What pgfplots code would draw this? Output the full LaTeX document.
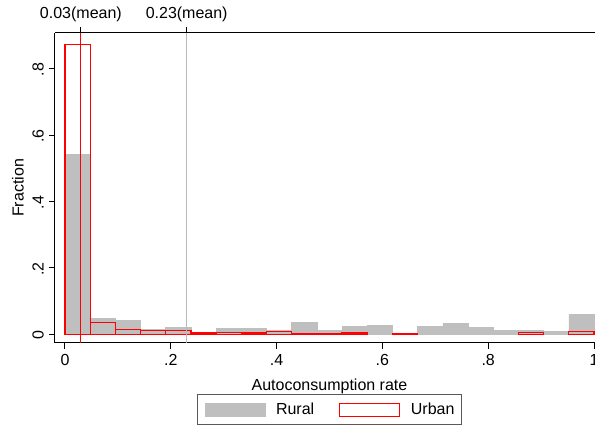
\documentclass[border=0pt]{standalone}
\usepackage{fontspec}
\setmainfont{Liberation Sans}
\usepackage{pgfplots}
\pgfplotsset{compat=1.18}

\definecolor{barfill}{RGB}{191,191,191}
\definecolor{meangray}{RGB}{185,185,185}

% Histogram fractions, 21 bins of width 1/21 on [0,1]
\newcommand{\ruralbars}{
(0.02381,0.543) (0.07143,0.049) (0.11905,0.043) (0.16667,0.015)
(0.21429,0.021) (0.26190,0.004) (0.30952,0.018) (0.35714,0.018)
(0.40476,0.012) (0.45238,0.035) (0.50000,0.011) (0.54762,0.023)
(0.59524,0.027) (0.64286,0.001) (0.69048,0.023) (0.73810,0.034)
(0.78571,0.022) (0.83333,0.011) (0.88095,0.013) (0.92857,0.010)
(0.97619,0.060)}
\newcommand{\urbanbars}{
(0.02381,0.873) (0.07143,0.035) (0.11905,0.014) (0.16667,0.011)
(0.21429,0.011) (0.26190,0.004) (0.30952,0.006) (0.35714,0.004)
(0.40476,0.009) (0.45238,0.003) (0.50000,0.003) (0.54762,0.004)
(0.64286,0.003) (0.88095,0.006) (0.97619,0.009)}

\pgfplotsset{
  frame/.style={
    scale only axis, width=274.5pt, height=155pt,
    xmin=-0.0189, xmax=1.0189, ymin=-0.026, ymax=0.9075,
    axis line style={-, line width=0.5pt, black},
    tick align=outside, major tick length=2.8pt,
    tick style={black, line width=0.5pt},
  },
  swatch/.style={legend image code/.code={
    \path[draw=none, fill=none] (0pt,-7.4pt) rectangle (35.5pt,7.4pt);
    \draw[##1] (0pt,-3.25pt) rectangle (30pt,3.25pt);}},
}

\begin{document}
\fontsize{8}{9.6}\selectfont
\begin{tikzpicture}
\begin{axis}[
  frame,
  axis x line*=bottom, axis y line*=left,
  xtick={0,0.2,0.4,0.6,0.8,1}, xticklabels={0,.2,.4,.6,.8,1},
  ytick={0,0.2,0.4,0.6,0.8}, yticklabels={0,.2,.4,.6,.8},
  yticklabel style={rotate=90, anchor=south, xshift=-0.5pt},
  xlabel={Autoconsumption rate},
  xlabel style={at={(axis description cs:0.5,-0.152)}, anchor=base},
  ylabel={Fraction},
  ylabel style={at={(axis description cs:-0.0674,0.5)}, anchor=center},
  legend columns=2,
  legend style={at={(axis description cs:0.5,-0.166)}, anchor=north,
    draw=black!65, line width=0.5pt, font=\fontsize{8}{9.6}\selectfont,
    inner xsep=3.75pt, inner ysep=0pt,
    nodes={inner sep=0pt},
    /tikz/every even column/.append style={column sep=12.5pt}},
]
\addplot[ybar, bar width=0.047619, bar shift=0pt, fill=barfill, draw=barfill,
  line width=0.3pt, forget plot] coordinates {\ruralbars};
\addplot[ybar, bar width=0.047619, bar shift=0pt, draw=red, fill=none,
  line width=0.6pt, forget plot] coordinates {\urbanbars};
\addlegendimage{swatch, fill=barfill, draw=barfill}
\addlegendentry{Rural}
\addlegendimage{swatch, fill=none, draw=red, line width=0.6pt}
\addlegendentry{Urban}
\end{axis}
\begin{axis}[
  frame,
  axis x line*=top, axis y line=none,
  xtick={0.03,0.23}, xticklabels={0.03(mean),0.23(mean)},
]
\addplot[red, line width=0.5pt] coordinates {(0.03,-0.026) (0.03,0.9075)};
\addplot[meangray, line width=0.5pt] coordinates {(0.23,-0.026) (0.23,0.9075)};
\end{axis}
\pgfresetboundingbox
\useasboundingbox (-27.5pt,-41.5pt) rectangle (270pt,171.5pt);
\end{tikzpicture}
\end{document}
